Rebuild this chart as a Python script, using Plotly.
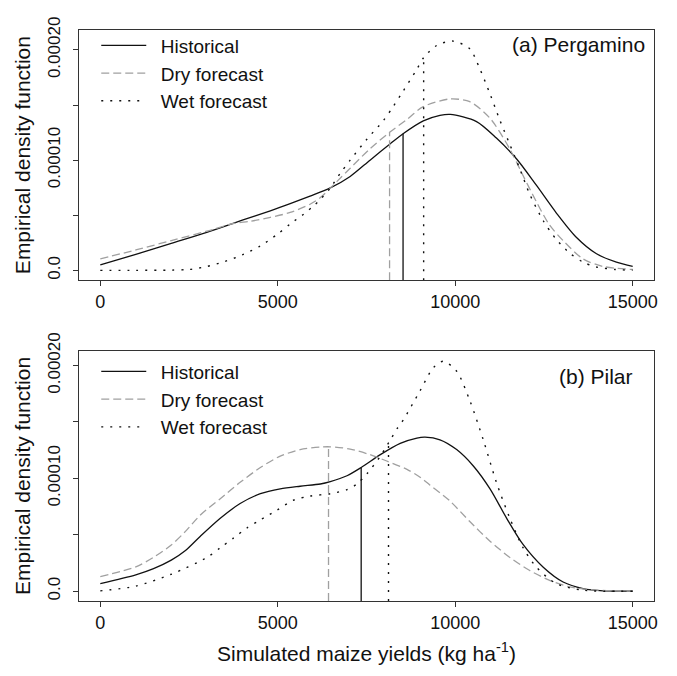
import numpy as np
import plotly.graph_objects as go

UNIT = 1e-5  # density values below are given in units of 1e-5

X_TICKS = [0, 5000, 10000, 15000]
X_TICK_TEXT = ["0", "5000", "10000", "15000"]
Y_TICKS = [0, 0.0001, 0.0002]
Y_TICK_TEXT = ["0.0", "0.00010", "0.00020"]
Y_MINOR_STEP = 0.00005
SERIES = ["Historical", "Dry forecast", "Wet forecast"]

# ---- Panel (a) Pergamino ----
a_hist_x = [0, 1000, 2000, 3000, 4000, 4790, 5350, 5910, 6480, 7040, 7600, 8170, 8520, 9100, 9570,
            9860, 10600, 11160, 11730, 12290, 12850, 13410, 13980, 14540, 15000]
a_hist_y = [0.50, 1.45, 2.45, 3.45, 4.55, 5.4, 6.05, 6.73, 7.48, 8.52, 10.0, 11.48, 12.37, 13.56, 14.06,
            14.15, 13.5, 12.0, 10.1, 7.7, 5.2, 3.0, 1.5, 0.74, 0.36]
a_dry_x = [0, 1000, 2000, 3000, 3750, 4220, 4790, 5350, 5910, 6200, 6670, 7040, 7600, 8150, 8640,
           9100, 9850, 10410, 10980, 11540, 11910, 12290, 12660, 13040, 13600, 14170, 15000]
a_dry_y = [1.04, 1.85, 2.7, 3.55, 4.25, 4.45, 4.81, 5.25, 6.0, 6.6, 8.07, 9.26, 11.04, 12.52, 13.7,
           14.85, 15.55, 15.3, 13.8, 11.0, 8.6, 6.2, 4.1, 2.7, 1.04, 0.35, 0.08]
a_wet_x = [0, 1000, 2000, 2500, 3000, 3500, 4000, 4500, 5000, 5350, 5730, 6010, 6200, 6480, 6760,
           7040, 7510, 7980, 8260, 8540, 8910, 9110, 9475, 9940, 10410, 10690, 10980, 11260, 11540,
           11820, 12100, 12480, 12850, 13230, 13600, 13980, 14500, 15000]
a_wet_y = [0.0, 0.0, 0.02, 0.08, 0.35, 0.8, 1.4, 2.2, 3.3, 4.21, 5.1, 5.85, 6.44, 7.48, 8.8,
           10.0, 11.9, 13.6, 14.9, 16.3, 18.2, 19.3, 20.4, 20.8, 20.1, 18.3, 16.0, 13.6, 11.4,
           9.2, 6.9, 4.5, 2.8, 1.55, 0.75, 0.3, 0.08, 0.02]
a_means = [8530, 8150, 9110]

# ---- Panel (b) Pilar ----
b_hist_x = [0, 1000, 1500, 2000, 2400, 2820, 3380, 3940, 4510, 5070, 5630, 6200, 6480, 6950, 7350, 7890,
            8450, 8920, 9150, 9570, 10040, 10510, 10980, 11450, 11910, 12480, 13040, 13600, 14170, 15000]
b_hist_y = [0.67, 1.45, 2.0, 2.75, 3.6, 4.87, 6.46, 7.77, 8.64, 9.07, 9.3, 9.5, 9.71, 10.23, 10.96, 12.1,
            13.1, 13.57, 13.65, 13.42, 12.55, 11.1, 9.07, 6.46, 4.14, 2.12, 0.81, 0.23, 0.03, 0.0]
b_dry_x = [0, 1000, 1500, 2000, 2400, 2820, 3380, 3940, 4510, 5070, 5630, 6200, 6480, 7040, 7600, 8070,
           8640, 9010, 9290, 9850, 10410, 10980, 11540, 12100, 12660, 13230, 13980, 15000]
b_dry_y = [1.3, 2.15, 3.0, 4.1, 5.3, 6.75, 8.2, 9.65, 10.96, 11.97, 12.55, 12.78, 12.8, 12.6, 12.1, 11.54,
           10.8, 10.1, 9.4, 8.0, 6.17, 4.43, 2.99, 1.83, 0.96, 0.38, 0.09, 0.0]
b_wet_x = [0, 1000, 2000, 3000, 3380, 3750, 4130, 4510, 4980, 5440, 5910, 6480, 6950, 7230, 7510,
           7890, 8170, 8360, 8540, 9010, 9380, 9660, 10040, 10410, 10790, 11160, 11540, 11910, 12290,
           12850, 13600, 15000]
b_wet_y = [0.03, 0.45, 1.5, 2.98, 3.85, 4.7, 5.6, 6.32, 7.19, 8.06, 8.43, 8.64, 9.0, 9.5, 10.4,
           11.97, 13.4, 14.4, 15.2, 17.77, 19.8, 20.38, 19.5, 16.9, 13.42, 9.65, 6.46, 3.86, 2.12,
           0.67, 0.09, 0.0]
b_means = [7350, 6430, 8120]

A_YRANGE = [-0.0000089, 0.00021807]
B_YRANGE = [-0.0000087, 0.00021304]
X_RANGE = [-600, 15600]

STYLES = [
    dict(color="#111111", width=1.3, dash="solid"),
    dict(color="#a0a0a0", width=1.3, dash="8px,4px"),
    dict(color="#111111", width=1.4, dash="2px,7px"),
]

FONT = "Liberation Sans, Arial, sans-serif"

fig = go.Figure()

panels = [
    ("x", "y", "legend", [(a_hist_x, a_hist_y), (a_dry_x, a_dry_y), (a_wet_x, a_wet_y)], a_means, A_YRANGE),
    ("x2", "y2", "legend2", [(b_hist_x, b_hist_y), (b_dry_x, b_dry_y), (b_wet_x, b_wet_y)], b_means, B_YRANGE),
]

for xa, ya, leg, curves, means, yr in panels:
    for name, (cx, cy), style, m in zip(SERIES, curves, STYLES, means):
        yy = np.array(cy) * UNIT
        fig.add_trace(go.Scatter(
            x=cx, y=yy, mode="lines", name="\u2002" + name,
            line=dict(shape="spline", smoothing=0.8, **style),
            xaxis=xa, yaxis=ya, legend=leg, hoverinfo="skip"))
        top = float(np.interp(m, cx, yy))
        fig.add_trace(go.Scatter(
            x=[m, m], y=[yr[0], top], mode="lines", line=style, showlegend=False,
            xaxis=xa, yaxis=ya, hoverinfo="skip"))

axis_common = dict(
    showline=True, mirror=True, linecolor="#333333", linewidth=1,
    ticks="outside", ticklen=5, tickcolor="#333333", tickwidth=1,
    showgrid=False, zeroline=False,
)
xtickfont = dict(family=FONT, size=18, color="#111111")
ytickfont = dict(family=FONT, size=17, color="#111111")
yminor = dict(tick0=0, dtick=Y_MINOR_STEP, ticks="outside", ticklen=5, tickcolor="#333333",
              tickwidth=1, showgrid=False)

A_DOMAIN = [0.5619, 1.0]
B_DOMAIN = [0.0, 0.4381]

fig.update_layout(
    width=677, height=676,
    margin=dict(l=79, r=23, t=19, b=75),
    paper_bgcolor="white", plot_bgcolor="white",
    font=dict(family=FONT, color="#111111"),
    xaxis=dict(domain=[0, 1], range=X_RANGE, tickvals=X_TICKS, ticktext=X_TICK_TEXT, anchor="y",
               tickfont=xtickfont, **axis_common),
    yaxis=dict(domain=A_DOMAIN, range=A_YRANGE, tickvals=Y_TICKS, ticktext=Y_TICK_TEXT,
               tickangle=-90, anchor="x", tickfont=ytickfont, ticklabelstandoff=6, minor=yminor,
               title=dict(text="Empirical density function", font=dict(family=FONT, size=21), standoff=8),
               **axis_common),
    xaxis2=dict(domain=[0, 1], range=X_RANGE, tickvals=X_TICKS, ticktext=X_TICK_TEXT, anchor="y2",
                tickfont=xtickfont,
                title=dict(text="Simulated maize yields (kg ha<sup>-1</sup>)", font=dict(family=FONT, size=21), standoff=14),
                **axis_common),
    yaxis2=dict(domain=B_DOMAIN, range=B_YRANGE, tickvals=Y_TICKS, ticktext=Y_TICK_TEXT,
                tickangle=-90, anchor="x2", tickfont=ytickfont, ticklabelstandoff=6, minor=yminor,
                title=dict(text="Empirical density function", font=dict(family=FONT, size=21), standoff=8),
                **axis_common),
    legend=dict(x=0.03, y=1.006, xanchor="left", yanchor="top", bgcolor="rgba(0,0,0,0)",
                font=dict(family=FONT, size=19), itemwidth=45, tracegroupgap=0),
    legend2=dict(x=0.03, y=0.435, xanchor="left", yanchor="top", bgcolor="rgba(0,0,0,0)",
                 font=dict(family=FONT, size=19), itemwidth=45, tracegroupgap=0),
    annotations=[
        dict(text="(a) Pergamino", xref="x domain", yref="y domain", x=0.987, y=0.943,
             xanchor="right", yanchor="middle", showarrow=False, font=dict(family=FONT, size=21)),
        dict(text="(b) Pilar", xref="x2 domain", yref="y2 domain", x=0.967, y=0.898,
             xanchor="right", yanchor="middle", showarrow=False, font=dict(family=FONT, size=21)),
    ],
)

fig.write_html("out.html")
